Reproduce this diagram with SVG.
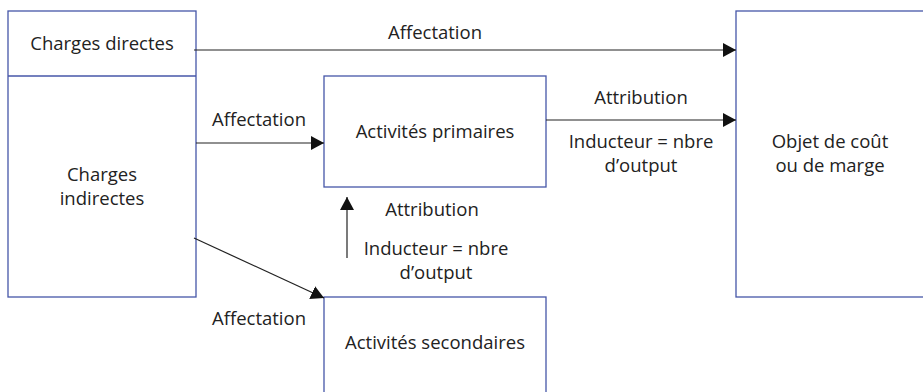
<svg xmlns="http://www.w3.org/2000/svg" width="923" height="392" viewBox="0 0 923 392">
<defs>
<style>
.box{fill:#fff;stroke:#4656a8;stroke-width:1.3}
.t{font-family:"Open Sans","Noto Sans",sans-serif;font-size:18.5px;fill:#222;text-anchor:middle}
.c{stroke:#222;stroke-width:1.2;fill:none}
</style>
<marker id="ah" markerWidth="13" markerHeight="14" refX="13" refY="7" orient="auto" markerUnits="userSpaceOnUse">
<path d="M0,0 L13,7 L0,14 z" fill="#111"/>
</marker>
</defs>
<g id="charges">
<rect class="box" x="8" y="11" width="188" height="286"/>
<line x1="8" y1="76" x2="196" y2="76" stroke="#4656a8" stroke-width="1.3"/>
<text class="t" x="102" y="50">Charges directes</text>
<text class="t" x="102" y="181">Charges</text>
<text class="t" x="102" y="205">indirectes</text>
</g>
<g id="primaires">
<rect class="box" x="324" y="76" width="222" height="111"/>
<text class="t" x="435" y="138">Activités primaires</text>
</g>
<g id="secondaires">
<rect class="box" x="324" y="297" width="222" height="110"/>
<text class="t" x="435" y="349">Activités secondaires</text>
</g>
<g id="objet">
<rect class="box" x="736" y="11" width="190" height="286"/>
<text class="t" x="830" y="148">Objet de coût</text>
<text class="t" x="830" y="172">ou de marge</text>
</g>
<g id="connectors">
<line class="c" x1="194" y1="50" x2="736" y2="50" marker-end="url(#ah)"/>
<line class="c" x1="196" y1="143" x2="324" y2="143" marker-end="url(#ah)"/>
<line class="c" x1="546" y1="120" x2="736" y2="120" marker-end="url(#ah)"/>
<line class="c" x1="347" y1="258" x2="347" y2="197" marker-end="url(#ah)"/>
<line class="c" x1="194" y1="238" x2="324" y2="298" marker-end="url(#ah)"/>
<text class="t" x="435" y="39">Affectation</text>
<text class="t" x="259" y="126">Affectation</text>
<text class="t" x="641" y="104">Attribution</text>
<text class="t" x="641" y="148">Inducteur = nbre</text>
<text class="t" x="641" y="172">d’output</text>
<text class="t" x="432" y="216">Attribution</text>
<text class="t" x="436" y="255">Inducteur = nbre</text>
<text class="t" x="436" y="279">d’output</text>
<text class="t" x="259" y="325">Affectation</text>
</g>
</svg>
